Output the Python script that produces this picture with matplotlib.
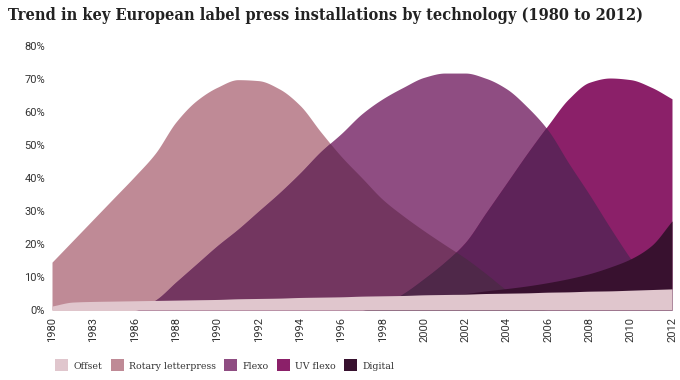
import numpy as np
import matplotlib
matplotlib.use("Agg")
import matplotlib.pyplot as plt
from matplotlib.patches import Patch

# ---- Data (percent of installations), read at half-category steps ----
categories = ["1980", "1983", "1986", "1988", "1990", "1992", "1994", "1996",
              "1998", "2000", "2002", "2004", "2006", "2008", "2010", "2012"]
# positions in category units: 0, 0.5, 1, ... 15
pos = [i * 0.5 for i in range(31)]

offset = [1.2, 2.4, 2.6, 2.7, 2.8, 2.9, 3.0, 3.1, 3.2, 3.4, 3.5, 3.6, 3.8, 3.9, 4.0,
          4.2, 4.3, 4.4, 4.6, 4.7, 4.8, 5.0, 5.1, 5.2, 5.4, 5.5, 5.7, 5.8, 6.0, 6.2, 6.4]
rotary = [14.5, 21.0, 27.5, 34.0, 40.5, 47.5, 57.0, 63.5, 67.5, 69.8, 69.5, 67.0, 62.0,
          54.0, 46.5, 40.0, 33.5, 28.5, 24.0, 19.8, 15.7, 11.0, 6.0, 2.0, 0, 0, 0, 0, 0, 0, 0]
flexo = [0, 0, 0, 0, 0, 3.0, 8.5, 14.0, 19.5, 24.5, 30.0, 35.5, 41.5, 48.0, 53.5, 59.5,
         64.0, 67.5, 70.5, 71.8, 71.8, 70.2, 67.0, 61.5, 54.5, 44.5, 35.0, 25.0, 15.5, 7.0, 0]
uv_flexo = [0, 0, 0, 0, 0, 0, 0, 0, 0, 0, 0, 0, 0, 0, 0, 0,
            1.5, 5.0, 9.5, 14.5, 20.5, 29.5, 38.5, 47.5, 56.0, 64.0, 69.0, 70.3, 69.8, 67.5, 64.0]
digital = [0, 0, 0, 0, 0, 0, 0, 0, 0, 0, 0, 0, 0, 0, 0, 0,
           3.0, 3.5, 4.0, 4.5, 5.0, 5.8, 6.5, 7.3, 8.3, 9.5, 11.0, 13.0, 15.5, 19.5, 27.0]
yticks = [0, 10, 20, 30, 40, 50, 60, 70, 80]

series_names = ["Offset", "Rotary letterpress", "Flexo", "UV flexo", "Digital"]
colors = {"Offset": "#e0c6cd", "Rotary letterpress": "#bf8a96", "Flexo": "#8f4d82",
          "UV flexo": "#8b2069", "Digital": "#38112f"}
c_rf = "#733660"   # rotary + flexo overlap
c_fu = "#5e2359"   # flexo + uv overlap
c_rfu = "#4f2849"  # rotary + flexo + uv overlap


def pchip(xk, yk, xq):
    """Monotone cubic (Fritsch-Carlson) curve through the data points, for smooth drawing."""
    xk = np.asarray(xk, float)
    yk = np.asarray(yk, float)
    h = np.diff(xk)
    dk = np.diff(yk) / h
    m = np.zeros_like(yk)
    for i in range(1, len(yk) - 1):
        if dk[i - 1] * dk[i] > 0:
            w1 = 2 * h[i] + h[i - 1]
            w2 = h[i] + 2 * h[i - 1]
            m[i] = (w1 + w2) / (w1 / dk[i - 1] + w2 / dk[i])
    m[0] = dk[0]
    m[-1] = dk[-1]
    idx = np.clip(np.searchsorted(xk, xq) - 1, 0, len(xk) - 2)
    t = (xq - xk[idx]) / h[idx]
    h00 = 2 * t**3 - 3 * t**2 + 1
    h10 = t**3 - 2 * t**2 + t
    h01 = -2 * t**3 + 3 * t**2
    h11 = t**3 - t**2
    return (h00 * yk[idx] + h10 * h[idx] * m[idx] + h01 * yk[idx + 1]
            + h11 * h[idx] * m[idx + 1])


slab = "DejaVu Serif"

fig = plt.figure(figsize=(6.8, 3.8), dpi=100)
ax = fig.add_axes([52 / 680, 1 - 310 / 380, 620 / 680, 264 / 380])

xf = np.linspace(0, 15, 1501)
r = np.clip(pchip(pos, rotary, xf), 0, None)
f = np.clip(pchip(pos, flexo, xf), 0, None)
u = np.clip(pchip(pos, uv_flexo, xf), 0, None)
d = np.clip(pchip(pos, digital, xf), 0, None)
o = np.clip(pchip(pos, offset, xf), 0, None)

ax.fill_between(xf, 0, r, color=colors["Rotary letterpress"], lw=0)
ax.fill_between(xf, 0, f, color=colors["Flexo"], lw=0)
ax.fill_between(xf, 0, u, color=colors["UV flexo"], lw=0)
ax.fill_between(xf, 0, np.minimum(r, f), color=c_rf, lw=0)
ax.fill_between(xf, 0, np.minimum(f, u), color=c_fu, lw=0)
ax.fill_between(xf, 0, np.minimum(np.minimum(r, f), u), color=c_rfu, lw=0)
ax.fill_between(xf, 0, d, color=colors["Digital"], lw=0)
ax.fill_between(xf, 0, o, color=colors["Offset"], lw=0)

ax.set_xlim(0, 15)
ax.set_ylim(0, 80)
ax.set_yticks(yticks)
ax.set_yticklabels([f"{v}%" for v in yticks])
ax.set_xticks(range(len(categories)))
ax.set_xticklabels(categories, rotation=90)
for s in ax.spines.values():
    s.set_visible(False)
ax.tick_params(axis="both", length=0, labelsize=8, labelcolor="#333333")
ax.tick_params(axis="y", pad=5)
ax.tick_params(axis="x", pad=5)
for lab in ax.get_xticklabels() + ax.get_yticklabels():
    lab.set_fontfamily("Roboto")

title = fig.text(8 / 680, 1 - 16 / 380,
                 "Trend in key European label press installations by technology (1980 to 2012)",
                 fontsize=12, fontweight="bold", family=slab, color="#222222",
                 fontstretch="condensed", va="center", ha="left")
# fit title width to the reference span (about 632 px)
fig.canvas.draw()
bb = title.get_window_extent()
if bb.width > 632:
    title.set_fontsize(12 * 632 / bb.width)

handles = [Patch(facecolor=colors[n], edgecolor="none") for n in series_names]
fig.legend(handles, series_names, ncol=5, loc="center left",
           bbox_to_anchor=(46 / 680, 1 - 365 / 380), frameon=False,
           handlelength=1.25, handleheight=1.25, handletextpad=0.5, columnspacing=0.8,
           prop={"family": slab, "size": 7.5, "stretch": "condensed"}, labelcolor="#333333")

fig.savefig("out.png", dpi=100)
